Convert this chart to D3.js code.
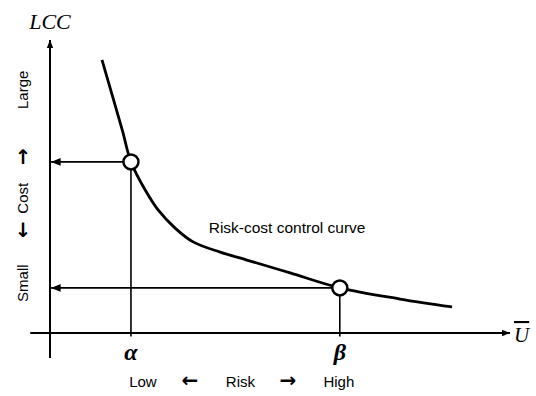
<!DOCTYPE html>
<html>
<head>
<meta charset="utf-8">
<script src="https://cdn.jsdelivr.net/npm/d3@7"></script>
<style>
  body { margin: 0; background: #fff; }
  svg text { font-family: "Liberation Sans", Arial, sans-serif; }
  .arrow { font-family: "DejaVu Sans", sans-serif; font-weight: bold; }
</style>
</head>
<body>
<div id="chart"></div>
<script>
// Curve (U in 0..100, LCC in 0..100)
const curveU   = [11.3, 15.7, 17.6, 20.7, 23.5, 27.2, 31.1, 37.0, 42.8, 52.2, 63.0, 76.1, 87.4];
const curveLCC = [93.2, 69.3, 58.4, 48.8, 42.0, 35.8, 31.1, 27.6, 24.9, 20.5, 15.4, 11.6, 8.9];

// Marked points alpha and beta
const markNames = ["\u03b1", "\u03b2"];
const markU     = [17.6, 63.0];
const markLCC   = [58.4, 15.4];

const yLabels = ["Large", "\u2191", "Cost", "\u2193", "Small"];
const yLabelPos = [83, 60, 46, 35, 17];
const xLabels = ["Low", "\u2190", "Risk", "\u2192", "High"];
const xLabelPos = [20.2, 30.4, 41.4, 51.7, 62.8];
const arrowGlyphs = ["\u2190", "\u2192", "\u2191", "\u2193"];

const width = 536, height = 396;

const svg = d3.select("#chart").append("svg")
    .attr("width", width)
    .attr("height", height);

const x = d3.scaleLinear().domain([0, 100]).range([50, 510]);
const y = d3.scaleLinear().domain([0, 100]).range([333, 40]);

// arrow marker
const defs = svg.append("defs");
defs.append("marker")
    .attr("id", "head")
    .attr("viewBox", "0 0 10 10")
    .attr("refX", 10).attr("refY", 5)
    .attr("markerWidth", 4).attr("markerHeight", 4)
    .attr("markerUnits", "strokeWidth")
    .attr("orient", "auto")
    .append("path").attr("d", "M0,1L10,5L0,9Z").attr("fill", "#000");
defs.append("marker")
    .attr("id", "headThin")
    .attr("viewBox", "0 0 10 10")
    .attr("refX", 10).attr("refY", 5)
    .attr("markerWidth", 6).attr("markerHeight", 6)
    .attr("markerUnits", "strokeWidth")
    .attr("orient", "auto")
    .append("path").attr("d", "M0,1L10,5L0,9Z").attr("fill", "#000");

// axes
svg.append("line")
    .attr("x1", x(0)).attr("y1", y(-8.5))
    .attr("x2", x(0)).attr("y2", y(100))
    .attr("stroke", "#000").attr("stroke-width", 2)
    .attr("marker-end", "url(#head)");
svg.append("line")
    .attr("x1", x(-4.3)).attr("y1", y(0))
    .attr("x2", x(100)).attr("y2", y(0))
    .attr("stroke", "#000").attr("stroke-width", 2)
    .attr("marker-end", "url(#head)");

// guide lines from marks
markU.forEach((u, i) => {
    svg.append("line")
        .attr("x1", x(u)).attr("y1", y(markLCC[i]))
        .attr("x2", x(u)).attr("y2", y(-1.2))
        .attr("stroke", "#000").attr("stroke-width", 1.6);
    svg.append("line")
        .attr("x1", x(u)).attr("y1", y(markLCC[i]))
        .attr("x2", x(0) + 1).attr("y2", y(markLCC[i]))
        .attr("stroke", "#000").attr("stroke-width", 1.6)
        .attr("marker-end", "url(#headThin)");
});

// curve
const pts = curveU.map((u, i) => [u, curveLCC[i]]);
svg.append("path")
    .datum(pts)
    .attr("fill", "none")
    .attr("stroke", "#000")
    .attr("stroke-width", 2.8)
    .attr("d", d3.line().x(d => x(d[0])).y(d => y(d[1])).curve(d3.curveCatmullRom.alpha(0.5)));

// circles
svg.selectAll("circle.mark")
    .data(markU)
    .join("circle")
    .attr("class", "mark")
    .attr("cx", d => x(d))
    .attr("cy", (d, i) => y(markLCC[i]))
    .attr("r", 7.5)
    .attr("fill", "#fff")
    .attr("stroke", "#000")
    .attr("stroke-width", 2.5);

// curve label
svg.append("text")
    .attr("x", x(34.5)).attr("y", y(34))
    .attr("font-size", 15.5)
    .text("Risk-cost control curve");

// axis titles
svg.append("text")
    .attr("x", x(0)).attr("y", 29)
    .attr("text-anchor", "middle")
    .style("font-family", "'Liberation Serif', serif")
    .style("font-style", "italic")
    .attr("font-size", 22)
    .text("LCC");
svg.append("text")
    .attr("x", 514).attr("y", 342)
    .style("font-family", "'Liberation Serif', serif")
    .style("font-style", "italic")
    .attr("font-size", 21)
    .attr("text-decoration", "overline")
    .text("U");

// alpha / beta
svg.selectAll("text.mark")
    .data(markNames)
    .join("text")
    .attr("class", "mark")
    .attr("x", (d, i) => x(markU[i]))
    .attr("y", y(-9.3))
    .attr("text-anchor", "middle")
    .style("font-family", "'Liberation Serif', serif")
    .style("font-style", "italic")
    .style("font-weight", "bold")
    .attr("font-size", 24)
    .text(d => d);

// bottom labels
svg.selectAll("text.xl")
    .data(xLabels)
    .join("text")
    .attr("class", d => arrowGlyphs.includes(d) ? "xl arrow" : "xl")
    .attr("x", (d, i) => x(xLabelPos[i]))
    .attr("y", 387)
    .attr("text-anchor", "middle")
    .attr("font-size", d => arrowGlyphs.includes(d) ? 20 : 15)
    .text(d => d);

// left labels, rotated
svg.selectAll("text.yl")
    .data(yLabels)
    .join("text")
    .attr("class", d => arrowGlyphs.includes(d) ? "yl arrow" : "yl")
    .attr("transform", (d, i) => arrowGlyphs.includes(d)
        ? `translate(23,${y(yLabelPos[i])})`
        : `translate(28,${y(yLabelPos[i])}) rotate(-90)`)
    .attr("text-anchor", "middle")
    .attr("dominant-baseline", d => arrowGlyphs.includes(d) ? "central" : null)
    .attr("font-size", d => arrowGlyphs.includes(d) ? 20 : 15)
    .text(d => d);
</script>
</body>
</html>
